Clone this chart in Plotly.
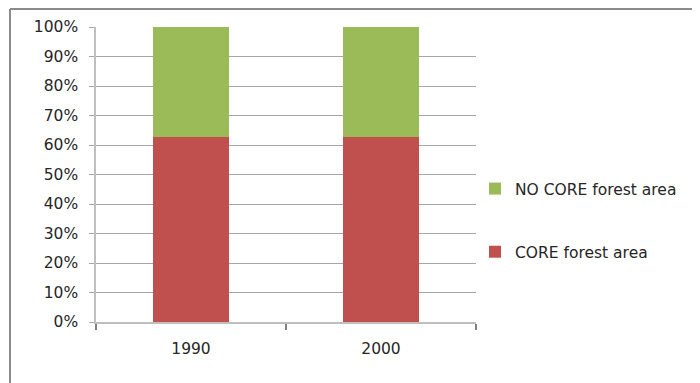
import plotly.graph_objects as go

years = ["1990", "2000"]
core_pct = [62.6, 62.6]
no_core_pct = [37.4, 37.4]
tick_vals = [0, 10, 20, 30, 40, 50, 60, 70, 80, 90, 100]
tick_text = [f"{v}%" for v in tick_vals]

FONT = "DejaVu Sans"
TXT = "#262626"
FS = 15.5

fig = go.Figure()
fig.add_trace(go.Bar(x=years, y=core_pct, name="CORE forest area",
                     marker=dict(color="#C0504D", line=dict(width=0)),
                     legendgroup="a", legendrank=2, width=0.4))
fig.add_trace(go.Bar(x=years, y=no_core_pct, name="NO CORE forest area",
                     marker=dict(color="#9BBB59", line=dict(width=0)),
                     legendgroup="b", legendrank=1, width=0.4))

# page is offset by the 8px body margin
OFF = 8
W, H = 700, 383
L, T = 96 - OFF, 27 - OFF
R = W - (476 - OFF)
B = H - (322 - OFF)
pw, ph = W - L - R, H - T - B

def px(x):
    return (x - OFF - L) / pw

def py(y):
    return (H - B - (y - OFF)) / ph

fig.update_layout(
    width=W, height=H,
    margin=dict(l=L, r=R, t=T, b=B, autoexpand=False),
    barmode="stack",
    paper_bgcolor="white", plot_bgcolor="white",
    font=dict(family=FONT, size=FS, color=TXT),
    legend=dict(x=px(475), xanchor="left", y=py(220.5), yanchor="middle",
                traceorder="grouped", tracegroupgap=40,
                font=dict(size=FS, color=TXT), bgcolor="rgba(0,0,0,0)"),
    xaxis=dict(showgrid=False, showline=True, linecolor="#BFBFBF", linewidth=1.5,
               ticks="outside", tickson="boundaries", ticklen=6, tickcolor="#808080",
               tickwidth=1.5, tickfont=dict(size=FS, color=TXT), range=[-0.5, 1.5],
               ticklabelstandoff=12, automargin=False),
    yaxis=dict(range=[0, 100], tickvals=tick_vals, ticktext=tick_text,
               showgrid=True, gridcolor="#A6A6A6", gridwidth=1,
               showline=True, linecolor="#BFBFBF", linewidth=1.5,
               ticks="outside", ticklen=5, tickcolor="#A6A6A6",
               tickfont=dict(size=FS, color=TXT), zeroline=False,
               ticklabelstandoff=8, automargin=False),
    shapes=[
        dict(type="line", xref="paper", yref="paper",
             x0=px(10), x1=px(760), y0=py(9), y1=py(9),
             line=dict(color="#8C8C8C", width=2)),
        dict(type="line", xref="paper", yref="paper",
             x0=px(10), x1=px(10), y0=py(9), y1=py(420),
             line=dict(color="#8C8C8C", width=2)),
    ],
)

fig.write_html("out.html")
